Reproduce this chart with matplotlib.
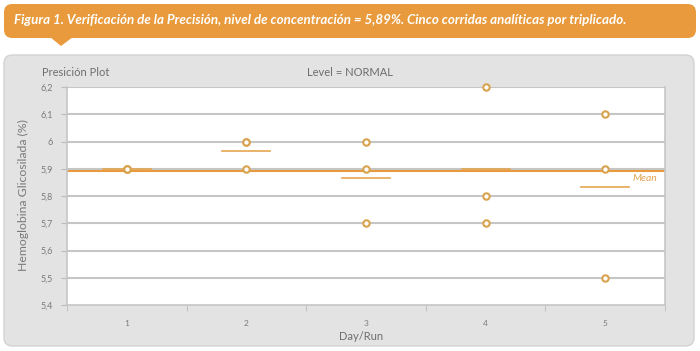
import matplotlib
matplotlib.use("Agg")
import matplotlib.pyplot as plt
from matplotlib.patches import FancyBboxPatch, Polygon

plt.rcParams['font.family'] = ['Lato', 'DejaVu Sans']

# data
runs = [1, 2, 3, 4, 5]
values = [
    [5.9, 5.9, 5.9],
    [6.0, 6.0, 5.9],
    [6.0, 5.9, 5.7],
    [6.2, 5.8, 5.7],
    [6.1, 5.9, 5.5],
]
y_ticks = [5.4, 5.5, 5.6, 5.7, 5.8, 5.9, 6.0, 6.1, 6.2]
y_tick_labels = ['5,4', '5,5', '5,6', '5,7', '5,8', '5,9', '6', '6,1', '6,2']
grand_mean = 5.893

title = 'Figura 1. Verificación de la Precisión, nivel de concentración = 5,89%. Cinco corridas analíticas por triplicado.'

orange = '#E89A3C'
point_col = '#D9A24E'
grey_txt = '#7A7A7A'

W, H = 700, 351
fig = plt.figure(figsize=(7, 3.51), dpi=100)
fig.patch.set_facecolor('white')

def fx(px):
    return px / W

def fy(py):
    return 1 - py / H

# title banner
banner = FancyBboxPatch((fx(4), fy(38)), fx(692), (38 - 4) / H,
                        boxstyle='round,pad=0,rounding_size=0.012',
                        transform=fig.transFigure, facecolor=orange,
                        edgecolor='none', mutation_aspect=W / H, zorder=-2)
fig.patches.append(banner)
fig.patches.append(Polygon([(fx(50), fy(37)), (fx(73), fy(37)), (fx(61), fy(46))],
                           closed=True, transform=fig.transFigure,
                           facecolor=orange, edgecolor='none', zorder=-2))
fig.text(fx(14), fy(20), title, color='white', fontsize=9.6, style='italic',
         fontweight='bold', va='center', ha='left')

# grey panel
panel = FancyBboxPatch((fx(4), fy(346)), fx(690), (346 - 55) / H,
                       boxstyle='round,pad=0,rounding_size=0.012',
                       transform=fig.transFigure, facecolor='#E3E3E3',
                       edgecolor='#D2D2D2', linewidth=1, mutation_aspect=W / H, zorder=-2)
fig.patches.append(panel)

ax = fig.add_axes([fx(67), fy(305), fx(665 - 67), (305 - 87) / H])
ax.set_facecolor('white')
ax.set_xlim(0.5, 5.5)
ax.set_ylim(5.4, 6.2)

ax.set_yticks(y_ticks)
ax.set_yticklabels(y_tick_labels)
ax.set_xticks(runs)
ax.set_xticks([0.5, 1.5, 2.5, 3.5, 4.5, 5.5], minor=True)
ax.tick_params(axis='x', which='major', length=0, labelsize=6, colors=grey_txt, pad=11)
ax.tick_params(axis='x', which='minor', length=4, color='#BBBBBB')
ax.tick_params(axis='y', length=4, color='#BBBBBB', labelsize=6.5, labelcolor=grey_txt, pad=6)

for y in y_ticks[1:]:
    ax.axhline(y, color='#C6C6C6', linewidth=1.5, zorder=1)

ax.spines['top'].set_visible(False)
for s in ['left', 'right', 'bottom']:
    ax.spines[s].set_color('#C6C6C6')
    ax.spines[s].set_linewidth(1.2)

ax.axhline(grand_mean, color=orange, linewidth=1.5, zorder=2)

for r, vals in zip(runs, values):
    ax.plot([r] * len(vals), vals, linestyle='none', marker='o', markersize=4.6,
            markerfacecolor='white', markeredgecolor=point_col,
            markeredgewidth=1.5, zorder=4, clip_on=False)
    m = sum(vals) / len(vals)
    ax.plot([r - 0.2, r + 0.2], [m, m], color='#E4A551', linewidth=1.2, zorder=3)

ax.text(5.23, 5.865, 'Mean', color='#E4A551', fontsize=7.5, style='italic', va='center', ha='left')

fig.text(fx(42), fy(72), 'Presición Plot', color='#6E6E6E', fontsize=8, va='center', ha='left')
fig.text(fx(350), fy(72), 'Level = NORMAL', color='#6E6E6E', fontsize=8, va='center', ha='center')
fig.text(fx(23), fy(195), 'Hemoglobina Glicosilada (%)', color=grey_txt, fontsize=8.8,
         rotation=90, va='center', ha='center')
fig.text(fx(361), fy(336), 'Day/Run', color='#6E6E6E', fontsize=8, va='center', ha='center')

fig.savefig('out.png', dpi=100)
